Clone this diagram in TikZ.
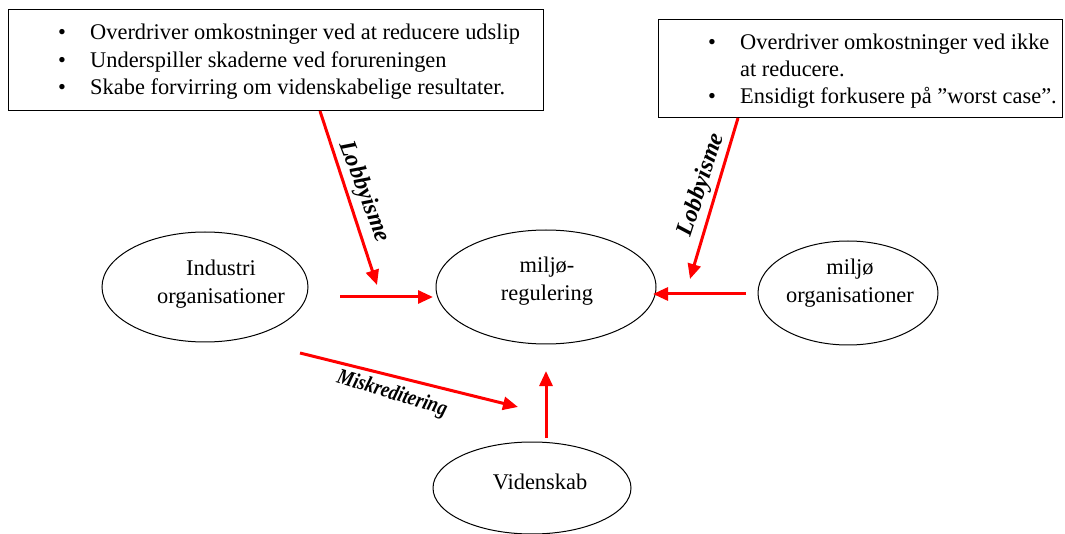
\documentclass[tikz,border=0pt]{standalone}
\usepackage{fontspec}
\setmainfont{Liberation Serif}
\usetikzlibrary{shapes.geometric,arrows.meta}
\begin{document}
\begin{tikzpicture}[x=1pt,y=-1pt,
  every node/.style={font=\fontsize{22.4}{27.5}\selectfont, inner sep=0pt},
  txtbox/.style={draw=black, line width=1pt, rectangle},
  oval/.style={draw=black, line width=1pt, ellipse},
  ovaltext/.style={align=center},
  redarrow/.style={draw=red, line width=3pt, -{Triangle[length=15pt,width=13pt]}},
  lab/.style={font=\fontsize{24}{26}\selectfont\bfseries\itshape}
]
\useasboundingbox (0,0) rectangle (1065,534);
% boxes
\node[txtbox, minimum width=535pt, minimum height=101pt] (lbox) at (275.5,60.5) {};
\node[txtbox, minimum width=404pt, minimum height=98pt] (rbox) at (860,69) {};
% left box text
\node[anchor=base] (lb1) at (62,40) {\textbullet};
\node[anchor=base west] (lt1) at (90,40) {Overdriver omkostninger ved at reducere udslip};
\node[anchor=base] (lb2) at (62,67.5) {\textbullet};
\node[anchor=base west] (lt2) at (90,67.5) {Underspiller skaderne ved forureningen};
\node[anchor=base] (lb3) at (62,95) {\textbullet};
\node[anchor=base west] (lt3) at (90,95) {Skabe forvirring om videnskabelige resultater.};
% right box text
\node[anchor=base] (rb1) at (712,50) {\textbullet};
\node[anchor=base west] (rt1) at (740,50) {Overdriver omkostninger ved ikke};
\node[anchor=base west] (rt2) at (740,77) {at reducere.};
\node[anchor=base] (rb3) at (712,104) {\textbullet};
\node[anchor=base west] (rt3) at (740,104) {Ensidigt forkusere på ”worst case”.};
% ellipses
\node[oval, minimum width=206pt, minimum height=110pt] (ind) at (205,287) {};
\node[ovaltext] (indt) at (221,284) {Industri\\organisationer};
\node[oval, minimum width=220pt, minimum height=114pt] (reg) at (546,287) {};
\node[ovaltext] (regt) at (547,281) {miljø-\\regulering};
\node[oval, minimum width=180pt, minimum height=104pt] (org) at (848,293) {};
\node[ovaltext] (orgt) at (850,283) {miljø\\organisationer};
\node[oval, minimum width=198pt, minimum height=92pt] (vid) at (532,488) {};
\node[ovaltext] (vidt) at (540,482) {Videnskab};
% connector endpoints
\coordinate (a1s) at (320,111);
\coordinate (a1e) at (377,285);
\coordinate (a2s) at (738,118);
\coordinate (a2e) at (690,279);
\coordinate (a3s) at (340,297);
\coordinate (a3e) at (433,297);
\coordinate (a4s) at (746,294);
\coordinate (a4e) at (653,294);
\coordinate (a5s) at (300,353);
\coordinate (a5e) at (518,407);
\coordinate (a6s) at (546,438);
\coordinate (a6e) at (546,371);
\draw[redarrow] (a1s) -- (a1e);
\draw[redarrow] (a2s) -- (a2e);
\draw[redarrow] (a3s) -- (a3e);
\draw[redarrow] (a4s) -- (a4e);
\draw[redarrow] (a5s) -- (a5e);
\draw[redarrow] (a6s) -- (a6e);
% labels
\node[lab, rotate=-69] (l1) at (364,192) {Lobbyisme};
\node[lab, rotate=72] (l2) at (702,185) {Lobbyisme};
\node[lab, rotate=-17] (l3) at (392,394) {\scalebox{0.85}[1]{\fontsize{22}{24}\selectfont Miskreditering}};
\end{tikzpicture}
\end{document}
